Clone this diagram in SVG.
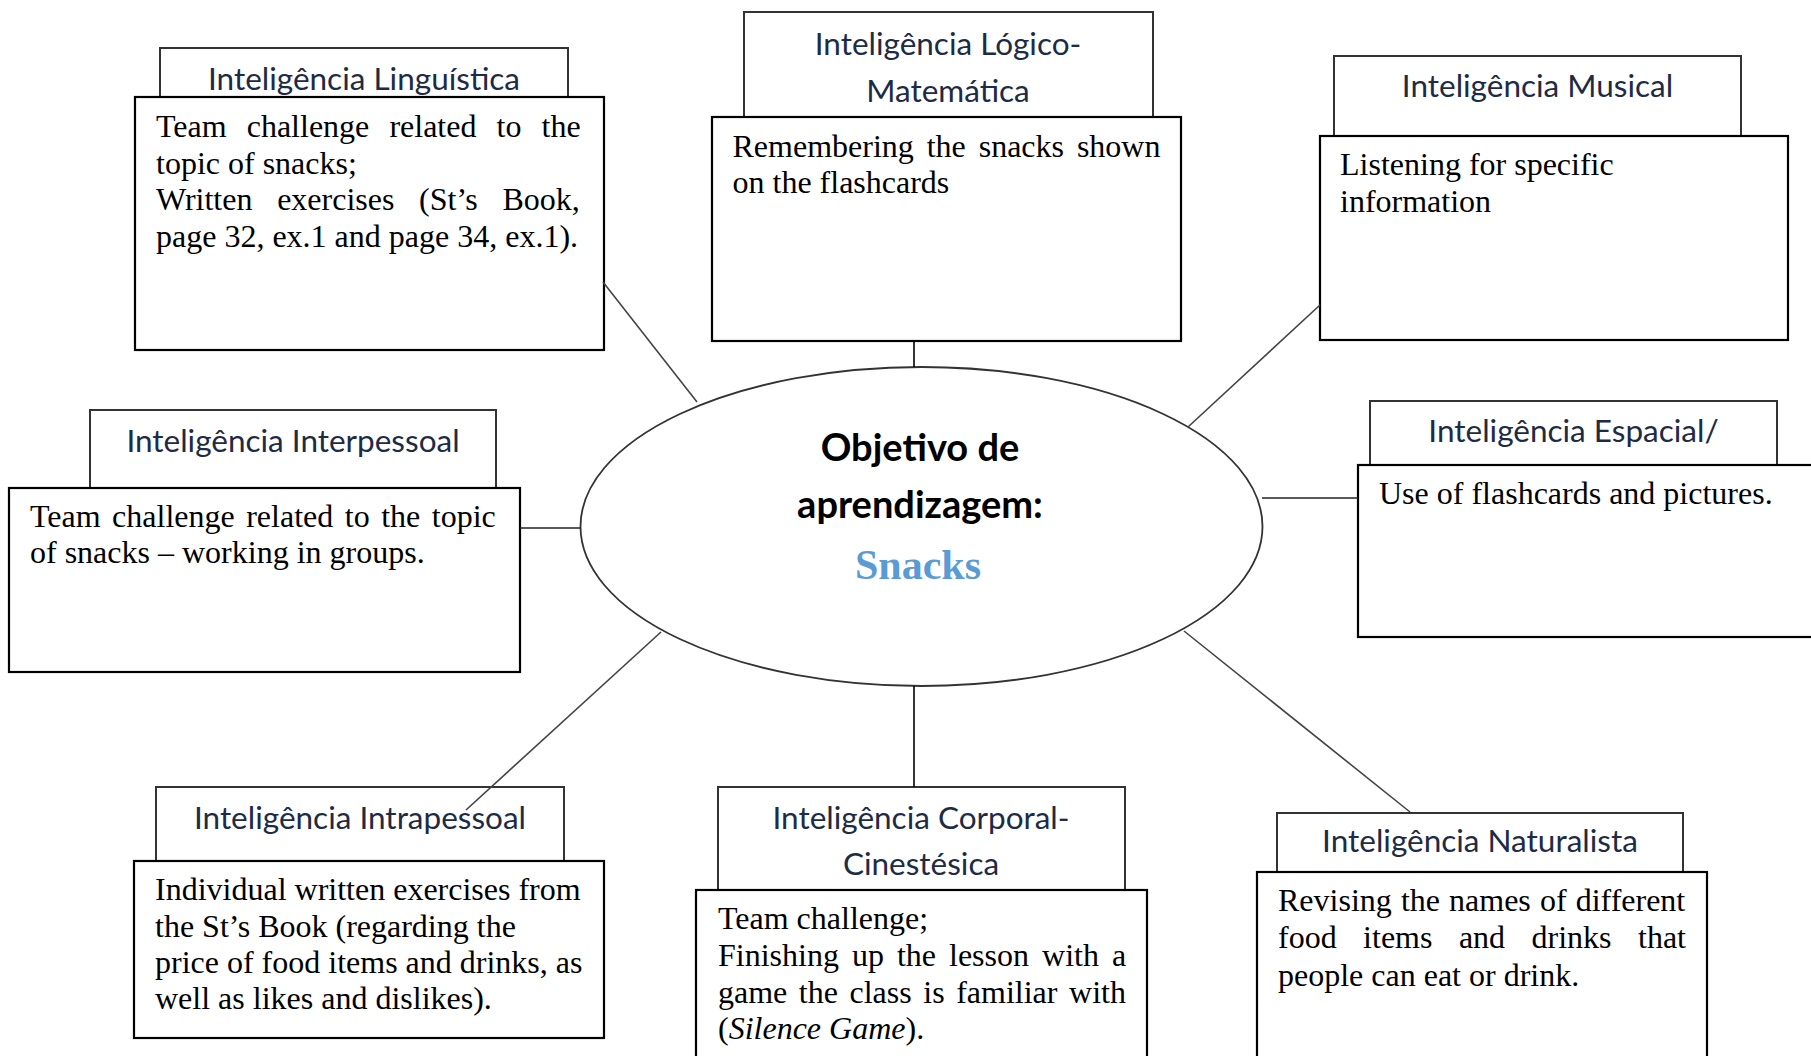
<svg xmlns="http://www.w3.org/2000/svg" width="1811" height="1056" viewBox="0 0 1811 1056">
<style>
.hdr{fill:#fff;stroke:#333;stroke-width:2}
.box{fill:#fff;stroke:#000;stroke-width:2.2}
.ttl{font-family:Lato,"Liberation Sans",sans-serif;font-size:31.5px;fill:#1d2b45;text-anchor:middle}
.body{font-family:"Liberation Serif","Times New Roman",serif;font-size:32px;fill:#000}
.con line{stroke:#444;stroke-width:1.6}
.center{font-family:Lato,"Liberation Sans",sans-serif;font-weight:bold;font-size:38px;fill:#000;text-anchor:middle}
.snack{font-family:"Liberation Serif",serif;font-weight:bold;font-size:42px;fill:#5b9bd5;text-anchor:middle}
</style>
<rect width="1811" height="1056" fill="#fff"/>

<g id="center">
<ellipse cx="921.5" cy="526.5" rx="341" ry="159.5" fill="#fff" stroke="#333" stroke-width="1.8"/>
<text class="center" x="920" y="461">Objetivo de</text>
<text class="center" x="920" y="518">aprendizagem:</text>
<text class="snack" x="918" y="579">Snacks</text>
</g>

<g id="linguistica">
<rect class="hdr" x="160" y="48" width="408" height="60"/>
<text class="ttl" x="364" y="90">Inteligência Linguística</text>
<rect class="box" x="135" y="97" width="469" height="253"/>
<text class="body" x="156" y="137" word-spacing="12.1">Team challenge related to the</text>
<text class="body" x="156" y="173.5">topic of snacks;</text>
<text class="body" x="156" y="210" word-spacing="16.7">Written exercises (St’s Book,</text>
<text class="body" x="156" y="246.5">page 32, ex.1 and page 34, ex.1).</text>
</g>

<g id="logico">
<rect class="hdr" x="744" y="12" width="409" height="110"/>
<text class="ttl" x="948" y="55">Inteligência Lógico-</text>
<text class="ttl" x="948" y="102">Matemática</text>
<rect class="box" x="712" y="117" width="469" height="224"/>
<text class="body" x="732.5" y="157" word-spacing="4.9">Remembering the snacks shown</text>
<text class="body" x="732.5" y="193">on the flashcards</text>
</g>

<g id="musical">
<rect class="hdr" x="1334" y="56" width="407" height="85"/>
<text class="ttl" x="1537.5" y="97">Inteligência Musical</text>
<rect class="box" x="1320" y="136" width="468" height="204"/>
<text class="body" x="1340" y="175">Listening for specific</text>
<text class="body" x="1340" y="212">information</text>
</g>

<g id="interpessoal">
<rect class="hdr" x="90" y="410" width="406" height="82"/>
<text class="ttl" x="293" y="452">Inteligência Interpessoal</text>
<rect class="box" x="9" y="488" width="511" height="184"/>
<text class="body" x="30" y="527" word-spacing="3.5">Team challenge related to the topic</text>
<text class="body" x="30" y="563">of snacks – working in groups.</text>
</g>

<g id="espacial">
<rect class="hdr" x="1370" y="401" width="407" height="70"/>
<text class="ttl" x="1573.5" y="442">Inteligência Espacial/</text>
<rect class="box" x="1358" y="465" width="470" height="172"/>
<text class="body" x="1379" y="504">Use of flashcards and pictures.</text>
</g>

<g id="intrapessoal">
<rect class="hdr" x="156" y="787" width="408" height="80"/>
<text class="ttl" x="360" y="829">Inteligência Intrapessoal</text>
<rect class="box" x="134" y="861" width="470" height="177"/>
<text class="body" x="155" y="900">Individual written exercises from</text>
<text class="body" x="155" y="936.5">the St’s Book (regarding the</text>
<text class="body" x="155" y="973">price of food items and drinks, as</text>
<text class="body" x="155" y="1009">well as likes and dislikes).</text>
</g>

<g id="corporal">
<rect class="hdr" x="718" y="787" width="407" height="108"/>
<text class="ttl" x="921" y="829">Inteligência Corporal-</text>
<text class="ttl" x="921" y="875">Cinestésica</text>
<rect class="box" x="696" y="890" width="451" height="190"/>
<text class="body" x="718" y="929">Team challenge;</text>
<text class="body" x="718" y="966" word-spacing="5">Finishing up the lesson with a</text>
<text class="body" x="718" y="1002.5" word-spacing="3.56">game the class is familiar with</text>
<text class="body" x="718" y="1039">(<tspan font-style="italic">Silence Game</tspan>).</text>
</g>

<g id="naturalista">
<rect class="hdr" x="1277" y="813" width="406" height="65"/>
<text class="ttl" x="1480" y="852">Inteligência Naturalista</text>
<rect class="box" x="1257" y="872" width="450" height="200"/>
<text class="body" x="1278" y="911" word-spacing="1.1">Revising the names of different</text>
<text class="body" x="1278" y="948" word-spacing="18.45">food items and drinks that</text>
<text class="body" x="1278" y="986">people can eat or drink.</text>
</g>

<g id="connectors" class="con">
<line x1="603" y1="282" x2="697" y2="402"/>
<line x1="914" y1="341" x2="914" y2="367" style="stroke:#000"/>
<line x1="1320" y1="305" x2="1188" y2="427"/>
<line x1="520" y1="528" x2="581" y2="528" style="stroke:#222"/>
<line x1="1262" y1="498" x2="1358" y2="498" style="stroke:#222"/>
<line x1="661" y1="632" x2="466" y2="810"/>
<line x1="914" y1="686" x2="914" y2="787" style="stroke:#000"/>
<line x1="1184" y1="631" x2="1410" y2="812"/>
</g>
</svg>
